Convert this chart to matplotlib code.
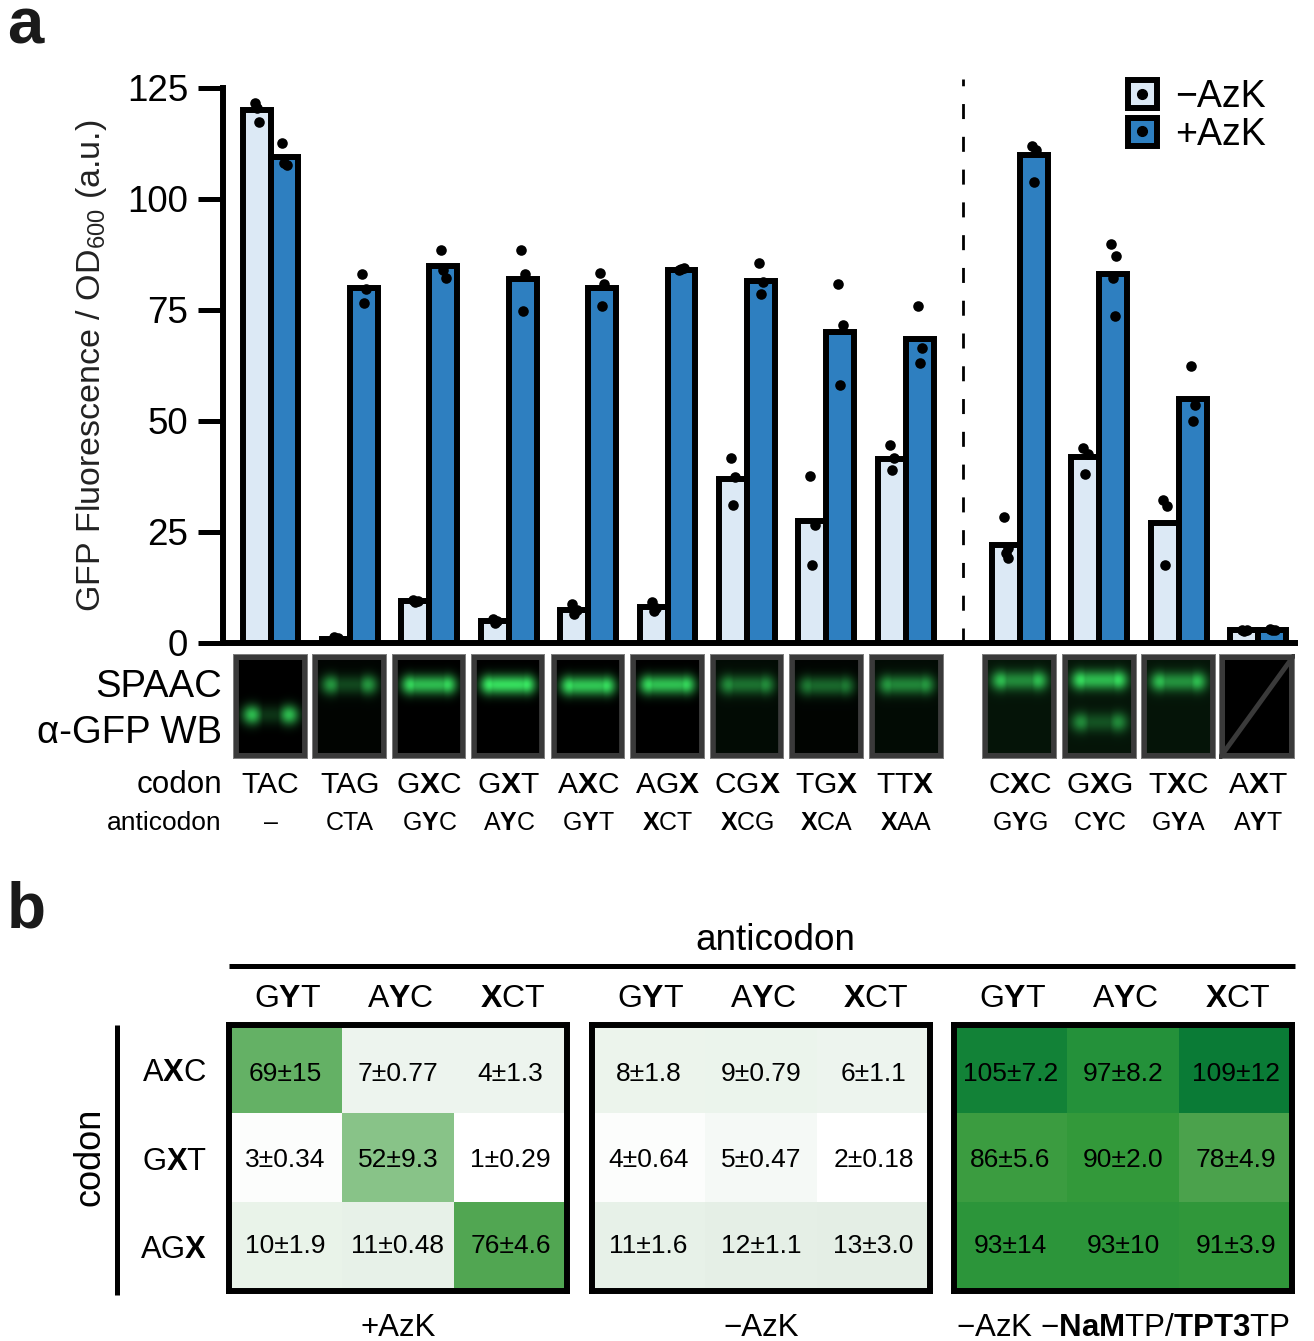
#!/usr/bin/env python3
"""Codon / anticodon GFP fluorescence bars, gel strips and heat tables."""

import matplotlib
matplotlib.use("Agg")
import matplotlib.pyplot as plt
import numpy as np
from matplotlib.colors import LinearSegmentedColormap
from matplotlib.legend_handler import HandlerTuple
from matplotlib.lines import Line2D
from matplotlib.patches import Patch
from matplotlib.transforms import ScaledTranslation, blended_transform_factory

plt.rcParams["font.family"] = ["Liberation Sans", "DejaVu Sans"]
plt.rcParams["mathtext.fontset"] = "custom"
plt.rcParams["mathtext.rm"] = "Liberation Sans"
plt.rcParams["mathtext.bf"] = "Liberation Sans:bold"
plt.rcParams["mathtext.default"] = "regular"

W, H = 1314, 1341
LIGHT = "#dce9f5"
BLUE = "#2e7fc0"

codons = ["TAC", "TAG", r"G$\mathbf{X}$C", r"G$\mathbf{X}$T", r"A$\mathbf{X}$C", r"AG$\mathbf{X}$",
          r"CG$\mathbf{X}$", r"TG$\mathbf{X}$", r"TT$\mathbf{X}$", r"C$\mathbf{X}$C", r"G$\mathbf{X}$G",
          r"T$\mathbf{X}$C", r"A$\mathbf{X}$T"]
anticodons = ["–", "CTA", r"G$\mathbf{Y}$C", r"A$\mathbf{Y}$C", r"G$\mathbf{Y}$T", r"$\mathbf{X}$CT",
              r"$\mathbf{X}$CG", r"$\mathbf{X}$CA", r"$\mathbf{X}$AA", r"G$\mathbf{Y}$G", r"C$\mathbf{Y}$C",
              r"G$\mathbf{Y}$A", r"A$\mathbf{Y}$T"]
group_x = [0, 1, 2, 3, 4, 5, 6, 7, 8, 9.44, 10.44, 11.44, 12.44]

minus_azk = [120, 1, 9.5, 5, 7.5, 8, 37, 27.5, 41.5, 22, 42, 27, 3]
plus_azk = [109.5, 80, 85, 82, 80, 84, 81.5, 70, 68.5, 110, 83, 55, 3]

minus_points = [
    [121.6, 117.3, 120.5], [1.3, 1.1, 0.9], [9.7, 9.5, 9.2], [5.3, 4.9, 4.4],
    [8.8, 7.5, 6.5], [9.2, 7.8, 7.3], [41.7, 37.4, 31], [37.6, 26.6, 17.6],
    [44.6, 41.7, 39], [28.4, 21.4, 20.3, 19.1], [43.9, 42.6, 38], [32.2, 30.9, 17.6],
    [3.0, 2.9, 2.7],
]
plus_points = [
    [112.6, 107.6, 108.2], [83.2, 79.7, 76.6], [88.5, 82.3, 84], [88.5, 83, 74.8],
    [83.3, 80.8, 75.8], [84, 84.5, 84.2], [85.6, 81.3, 78.6], [80.9, 71.6, 58.1],
    [75.9, 66.4, 63], [112, 111, 103.8], [89.8, 87.2, 82.2, 73.7], [62.4, 53.6, 50],
    [3.1, 3.0, 2.9],
]
point_shift = [-0.025, 0.03, 0.0, 0.02]

# gel strips: band position (fraction of strip height), brightness, fill between the bright ends
gel_spans = [(233, 308), (312, 387), (392, 466), (471, 545), (551, 625), (630, 705), (710, 784),
             (789, 864), (869, 944), (982, 1057), (1062, 1137), (1141, 1216), (1219, 1295)]
gel_bands = [[(0.58, 0.80, 0.20)], [(0.29, 0.62, 0.38)], [(0.29, 0.92, 0.85)], [(0.29, 1.0, 0.95)],
             [(0.30, 0.95, 0.88)], [(0.29, 0.92, 0.88)], [(0.29, 0.55, 0.75)], [(0.30, 0.50, 0.82)],
             [(0.29, 0.60, 0.85)], [(0.25, 0.72, 0.65)], [(0.245, 0.85, 0.80), (0.65, 0.50, 0.45)],
             [(0.26, 0.72, 0.70)], []]
gel_haze = [0.0, 0.02, 0.0, 0.0, 0.0, 0.0, 0.05, 0.02, 0.05, 0.09, 0.09, 0.09, 0.0]

col_heads = [r"G$\mathbf{Y}$T", r"A$\mathbf{Y}$C", r"$\mathbf{X}$CT"]
row_heads = [r"A$\mathbf{X}$C", r"G$\mathbf{X}$T", r"AG$\mathbf{X}$"]
table_titles = ["+AzK", "−AzK", r"−AzK −$\mathbf{NaM}$TP/$\mathbf{TPT3}$TP"]

plus_means = [[69, 7, 6.5], [3, 52, 1], [10, 11, 76]]
plus_text = [["69±15", "7±0.77", "4±1.3"], ["3±0.34", "52±9.3", "1±0.29"], ["10±1.9", "11±0.48", "76±4.6"]]
minus_means = [[8, 8.5, 6.5], [3, 5, 1], [11, 12, 13]]
minus_text = [["8±1.8", "9±0.79", "6±1.1"], ["4±0.64", "5±0.47", "2±0.18"], ["11±1.6", "12±1.1", "13±3.0"]]
none_means = [[105, 97, 109], [86, 90, 78], [93, 93, 91]]
none_text = [["105±7.2", "97±8.2", "109±12"], ["86±5.6", "90±2.0", "78±4.9"], ["93±14", "93±10", "91±3.9"]]

HEAT_STOPS = [(1, "#ffffff"), (3, "#fcfdfc"), (5, "#f5f9f6"), (6.5, "#eef5ef"), (10, "#e9f3e9"),
              (13, "#e4eee5"), (52, "#88c388"), (69, "#65b266"), (78, "#4ca34d"), (90, "#33993a"),
              (97, "#25923b"), (109, "#0a7b36")]


def px_rect(x0, y0, x1, y1):
    return [x0 / W, 1 - y1 / H, (x1 - x0) / W, (y1 - y0) / H]


def gel_image(bands, haze):
    rows, cols = 105, 76
    yy, xx = np.mgrid[0:1:rows * 1j, 0:1:cols * 1j]
    level = np.full(xx.shape, haze)
    for pos, peak, fill in bands:
        # bright blobs at both ends, fainter bar between them
        blob = np.exp(-((np.abs(xx - 0.5) - 0.25) / 0.12) ** 2) * np.exp(-((yy - pos) / 0.085) ** 2)
        bar = np.exp(-((xx - 0.5) / 0.34) ** 6) * np.exp(-((yy - pos) / 0.085) ** 2)
        level = level + peak * np.maximum(blob, fill * bar) ** 0.8
    level = np.clip(level, 0, 1)
    img = np.dstack([level * 0.22, level * 0.9, level * 0.38])
    img[:6], img[-6:], img[:, :6], img[:, -6:] = 0.23, 0.23, 0.23, 0.23
    img[0], img[-1], img[:, 0], img[:, -1] = 0.5, 0.5, 0.5, 0.5
    return img


fig = plt.figure(figsize=(W / 100, H / 100), dpi=100, facecolor="white")

# panel a bars
ax = fig.add_axes(px_rect(223, 79.1, 1295, 643))
x = np.array(group_x)
ax.bar(x - 0.176, minus_azk, width=0.352, color=LIGHT, edgecolor="black", linewidth=4.3, zorder=2)
ax.bar(x + 0.176, plus_azk, width=0.352, color=BLUE, edgecolor="black", linewidth=4.3, zorder=2)
for cx, m_vals, p_vals in zip(x, minus_points, plus_points):
    for vals, side in ((m_vals, -0.176), (p_vals, 0.176)):
        xs = [cx + side + point_shift[i] for i in range(len(vals))]
        ax.scatter(xs, vals, s=58, color="black", linewidths=0, zorder=4, clip_on=False)
ax.axvline((group_x[8] + group_x[9]) / 2, color="black", lw=2, linestyle=(0, (5.4, 6.4)), zorder=1)

ax.set_xlim((223 - 270.5) / 79.4, (1295 - 270.5) / 79.4)
ax.set_ylim(0, 127)
ax.set_xticks([])
ax.set_yticks([0, 25, 50, 75, 100, 125])
ax.tick_params(axis="y", length=18, width=3.6, pad=7, labelsize=26.5)
for side in ("top", "right"):
    ax.spines[side].set_visible(False)
ax.spines["left"].set_linewidth(4.3)
ax.spines["left"].set_bounds(0, 125)
ax.spines["bottom"].set_linewidth(4.3)
ax.spines["left"].set_zorder(5)
ax.spines["bottom"].set_zorder(5)
ax.set_ylabel("GFP Fluorescence / OD$_{600}$ (a.u.)", fontsize=24.5, color="#222222")
ax.yaxis.set_label_coords((109 - 223) / 1072, (643 - 366) / 563.9)

handles = [(Patch(facecolor=LIGHT, edgecolor="black", linewidth=4.3),
            Line2D([], [], marker="o", ms=7, color="black", ls="none")),
           (Patch(facecolor=BLUE, edgecolor="black", linewidth=4.3),
            Line2D([], [], marker="o", ms=7, color="black", ls="none"))]
ax.legend(handles, ["−AzK", "+AzK"], handler_map={tuple: HandlerTuple(ndivide=1, pad=0)},
          loc="upper right", bbox_to_anchor=(0.973, 1.0), frameon=False, fontsize=27,
          handlelength=0.77, handleheight=0.77, handletextpad=0.5, labelspacing=0.04,
          borderpad=0, borderaxespad=0)

# gel strips
for (x0, x1), bands, haze in zip(gel_spans, gel_bands, gel_haze):
    gel = fig.add_axes(px_rect(x0, 654, x1, 759))
    gel.imshow(gel_image(bands, haze), aspect="auto", extent=(0, 1, 0, 1), interpolation="bilinear")
    if not bands:
        gel.plot([0, 1], [0, 1], color="#3a3a3a", lw=3.5)
        gel.set_xlim(0, 1)
        gel.set_ylim(0, 1)
    gel.axis("off")

fig.text(222 / W, 1 - 687 / H, "SPAAC", ha="right", va="center", fontsize=27.5)
fig.text(222 / W, 1 - 733 / H, "α-GFP WB", ha="right", va="center", fontsize=27.5)
fig.text(222 / W, 1 - 785 / H, "codon", ha="right", va="center", fontsize=22.6)
fig.text(222 / W, 1 - 823 / H, "anticodon", ha="right", va="center", fontsize=19)

row_trans = blended_transform_factory(ax.transData, fig.transFigure)
for cx, codon, anti in zip(group_x, codons, anticodons):
    ax.text(cx, 1 - 785 / H, codon, transform=row_trans, ha="center", va="center", fontsize=21.6, clip_on=False)
    ax.text(cx, 1 - 823 / H, anti, transform=row_trans, ha="center", va="center", fontsize=18, clip_on=False)

fig.text(7 / W, 1 - 43 / H, "a", fontsize=47, fontweight="bold", ha="left", va="baseline", color="#1a1a1a")
fig.text(7 / W, 1 - 927 / H, "b", fontsize=46, fontweight="bold", ha="left", va="baseline", color="#1a1a1a")

# panel b heat tables
stops = [((v - 1) / 108, c) for v, c in HEAT_STOPS]
heat_cmap = LinearSegmentedColormap.from_list("gel_green", stops)
tables = [(229, 567, plus_means, plus_text), (592, 930, minus_means, minus_text), (954, 1292, none_means, none_text)]
head_shift = ScaledTranslation(2 / 100, 0, fig.dpi_scale_trans)
for i, (x0, x1, means, labels) in enumerate(tables):
    tb = fig.add_axes(px_rect(x0, 1025, x1, 1291))
    tb.imshow(means, cmap=heat_cmap, vmin=1, vmax=109, aspect="auto", interpolation="nearest")
    for r in range(3):
        for c in range(3):
            tb.text(c, r + 0.022 + (1 - r) * 0.028, labels[r][c], ha="center", va="center", fontsize=19, color="black")
    tb.xaxis.tick_top()
    tb.set_xticks(range(3), col_heads, fontsize=23)
    tb.tick_params(axis="x", length=0, pad=8)
    for lbl in tb.get_xticklabels():
        lbl.set_transform(lbl.get_transform() + head_shift)
    if i == 0:
        tb.set_yticks(range(3), row_heads, fontsize=22.3)
        tb.tick_params(axis="y", length=0, pad=16)
    else:
        tb.set_yticks([])
    for s in tb.spines.values():
        s.set_linewidth(4.3)
    tb.xaxis.set_label_position("bottom")
    tb.set_xlabel(table_titles[i], fontsize=22.5, labelpad=16)

fig.text(775 / W, 1 - 941 / H, "anticodon", ha="center", va="center", fontsize=26.6)
fig.text(90 / W, 1 - 1157 / H, "codon", ha="center", va="center", rotation=90, fontsize=26)
fig.add_artist(Line2D([229 / W, 1295 / W], [1 - 966 / H, 1 - 966 / H], color="black", lw=3.6, solid_capstyle="butt"))
fig.add_artist(Line2D([117 / W, 117 / W], [1 - 1025 / H, 1 - 1295 / H], color="black", lw=3.6, solid_capstyle="butt"))

fig.savefig("out.png", dpi=100, facecolor="white")
plt.close(fig)
